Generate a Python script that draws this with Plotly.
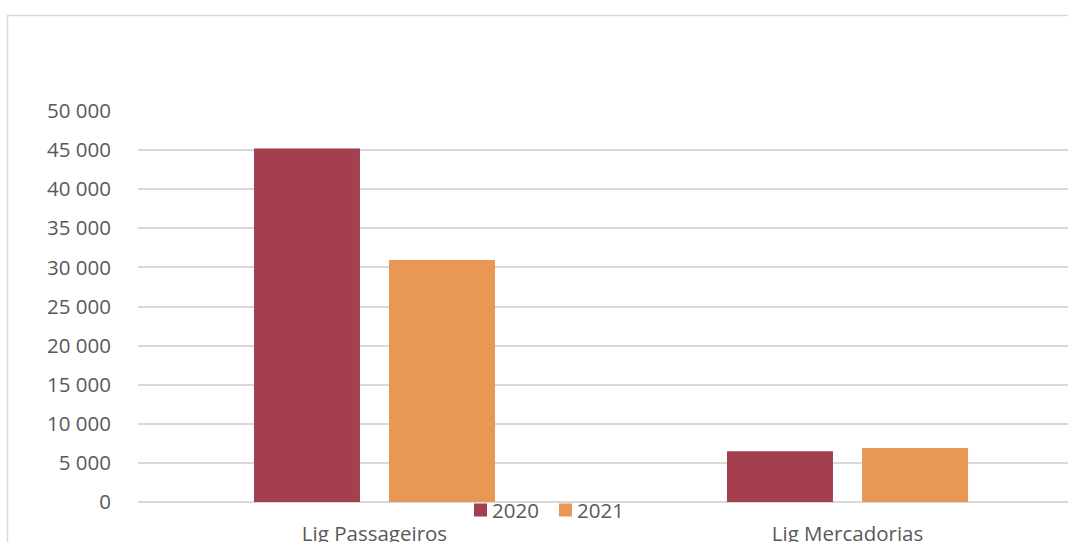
import plotly.graph_objects as go

categories = ["Lig Passageiros", "Lig Mercadorias"]
series_names = ["2020", "2021"]
values_2020 = [45200, 6500]
values_2021 = [30950, 6900]
colors = ["#A43F50", "#E99754"]
y_ticks = [0, 5000, 10000, 15000, 20000, 25000, 30000, 35000, 40000, 45000, 50000]

W, H = 1068, 542
ml, mr, mt, mb = 138, 0, 111, 40
pw, ph = W - ml - mr, H - mt - mb

def px_x(x):
    return (x - ml) / pw

def px_y(y):
    return (H - mb - y) / ph

font = dict(family="Open Sans, sans-serif", size=20.5, color="#595959")

fig = go.Figure()
for name, vals, col in zip(series_names, [values_2020, values_2021], colors):
    fig.add_trace(go.Bar(x=categories, y=vals, name=name, showlegend=False,
                         marker=dict(color=col, line=dict(width=0))))

shapes = [
    dict(type="line", xref="paper", yref="paper", x0=px_x(7), x1=px_x(1100), y0=px_y(15.5), y1=px_y(15.5),
         line=dict(color="#D9D9D9", width=1.5)),
    dict(type="line", xref="paper", yref="paper", x0=px_x(7.5), x1=px_x(7.5), y0=px_y(15.5), y1=px_y(600),
         line=dict(color="#D9D9D9", width=1.5)),
]
annotations = []
leg_sq_left = [474, 559]
for name, col, sx in zip(series_names, colors, leg_sq_left):
    shapes.append(dict(type="rect", xref="paper", yref="paper", x0=px_x(sx), x1=px_x(sx + 13),
                       y0=px_y(516.5), y1=px_y(503.5), fillcolor=col, line=dict(width=0), layer="above"))
    annotations.append(dict(xref="paper", yref="paper", x=px_x(sx + 16), y=px_y(510), xanchor="left",
                            yanchor="middle", text=name, showarrow=False, font=font))

fig.update_layout(
    width=W, height=H,
    autosize=False,
    margin=dict(l=ml, r=mr, t=mt, b=mb, pad=0, autoexpand=False),
    paper_bgcolor="white", plot_bgcolor="white",
    font=font,
    separators=", ",
    barmode="group",
    bargap=0.429,
    bargroupgap=0.215,
    showlegend=False,
    xaxis=dict(range=[-0.5, -0.5 + pw / 473], showgrid=False, zeroline=False, showline=False,
               automargin=False,
               ticks="outside", ticklen=13, tickcolor="rgba(0,0,0,0)", tickfont=font),
    yaxis=dict(range=[0, 50000], tickvals=y_ticks, tickformat=",d", showgrid=True,
               automargin=False,
               gridcolor="#D9D9D9", gridwidth=1.5, zeroline=True, zerolinecolor="#D9D9D9",
               zerolinewidth=1.5, showline=False, ticks="outside", ticklen=22,
               tickcolor="rgba(0,0,0,0)", tickfont=font),
    shapes=shapes,
    annotations=annotations,
)

fig.write_html(
    "out.html",
    config={"responsive": False, "displayModeBar": False},
    post_script="document.body.style.margin='0';document.body.style.overflow='hidden';",
)
